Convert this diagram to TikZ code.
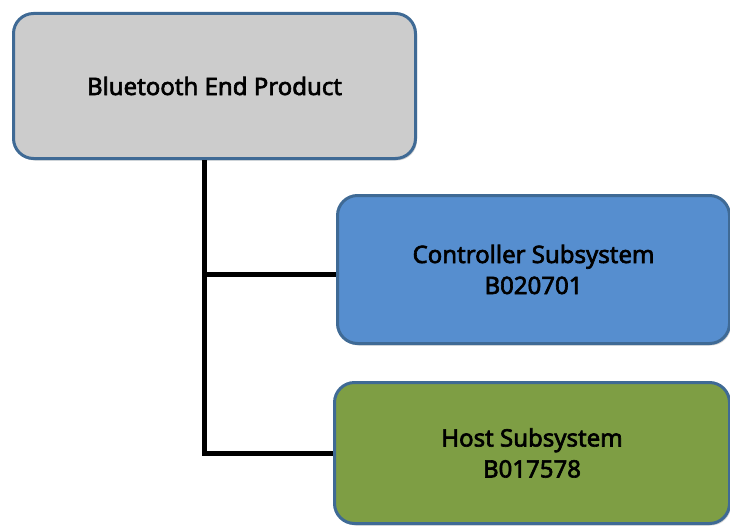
\documentclass[tikz,border=0pt]{standalone}
\usepackage{fontspec}
\setmainfont{Noto Sans}
\newfontfamily\boxfont{Noto Sans}[FakeBold=2.6]
\usetikzlibrary{positioning,shadows}
\definecolor{bordc}{HTML}{3F6A95}
\definecolor{grayf}{HTML}{CCCCCC}
\definecolor{bluef}{HTML}{568ECF}
\definecolor{greenf}{HTML}{7E9E44}
\tikzset{
  x=1pt,y=-1pt,
  box/.style={draw=bordc, line width=3pt, rounded corners=20pt, anchor=north west, inner sep=0pt, align=center, font=\boxfont\fontsize{24}{31}\selectfont,
    drop shadow={shadow xshift=1.5pt, shadow yshift=-2pt, opacity=0.35}},
  conn/.style={line width=5pt, black}
}
\begin{document}
\begin{tikzpicture}
\useasboundingbox (0,0) rectangle (730,527);
\node[box, fill=grayf, minimum width=402pt, minimum height=145pt] (top) at (12,12) {Bluetooth End Product};
\node[box, fill=bluef, minimum width=392pt, minimum height=148pt] (ctrl) at (336,194) {Controller Subsystem\\B020701};
\node[box, fill=greenf, minimum width=395pt, minimum height=141pt] (host) at (333,381) {Host Subsystem\\B017578};
\coordinate (j) at (204,274);
\draw[conn] (top.south -| j) -- (j |- host.west) -- (host.west);
\draw[conn] (j) -- (j -| ctrl.west);
\end{tikzpicture}
\end{document}
